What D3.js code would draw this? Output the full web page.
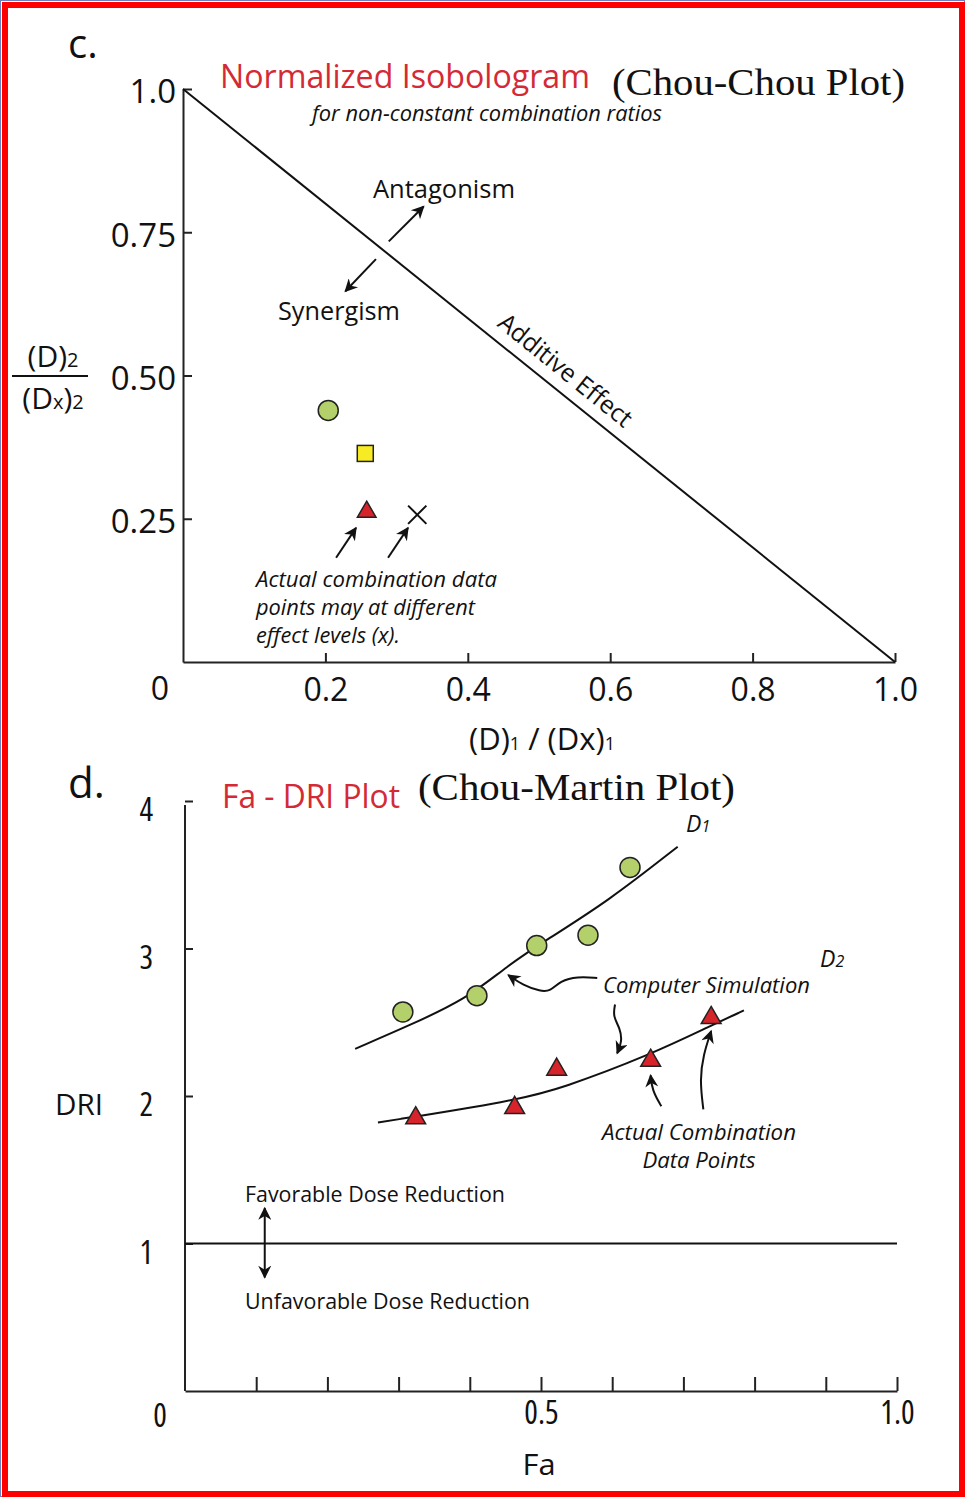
<!DOCTYPE html>
<html>
<head>
<meta charset="utf-8">
<script src="https://cdn.jsdelivr.net/npm/d3@7"></script>
<style>
  body { margin: 0; background: #fff; }
  svg text { font-family: "Open Sans", "Noto Sans", sans-serif; fill: #111; }
  .serif { font-family: "Liberation Serif", "Times New Roman", serif !important; }
  .axis path, .axis line { stroke: #222; stroke-width: 2; }
</style>
</head>
<body>
<div id="chart"></div>
<script>
// ---- panel c: normalized isobologram data ----
var isoTicksX = [0.2, 0.4, 0.6, 0.8, 1.0];
var isoTickLabelsX = ["0.2", "0.4", "0.6", "0.8", "1.0"];
var isoTicksY = [0.25, 0.5, 0.75, 1.0];
var isoTickLabelsY = ["0.25", "0.50", "0.75", "1.0"];
var additiveLine = [[0, 1], [1, 0]];
var isoPointNames = ["circle", "square", "triangle", "cross"];
var isoPointX = [0.204, 0.256, 0.258, 0.329];
var isoPointY = [0.439, 0.364, 0.262, 0.257];

// ---- panel d: Fa - DRI data ----
var driTicksX = [0.1, 0.2, 0.3, 0.4, 0.5, 0.6, 0.7, 0.8, 0.9, 1.0];
var driTickLabelsX = ["", "", "", "", "0.5", "", "", "", "", "1.0"];
var driTicksY = [1, 2, 3, 4];
var driTickLabelsY = ["1", "2", "3", "4"];
var faD1 = [0.306, 0.410, 0.494, 0.566, 0.625];
var driD1 = [2.57, 2.68, 3.02, 3.09, 3.55];
var faD2 = [0.324, 0.463, 0.522, 0.654, 0.739];
var driD2 = [1.85, 1.92, 2.18, 2.24, 2.53];
var simFaD1 = [0.239, 0.316, 0.396, 0.452, 0.508, 0.594, 0.692];
var simDriD1 = [2.32, 2.48, 2.66, 2.88, 3.06, 3.32, 3.69];
var simFaD2 = [0.271, 0.465, 0.528, 0.654, 0.740, 0.785];
var simDriD2 = [1.82, 1.97, 2.05, 2.28, 2.48, 2.58];
var referenceDRI = 1;

var width = 965, height = 1497;
var svg = d3.select("#chart").append("svg")
  .attr("width", width)
  .attr("height", height);

// arrow head
svg.append("defs").append("marker")
  .attr("id", "head")
  .attr("viewBox", "0 0 10 10")
  .attr("refX", 9).attr("refY", 5)
  .attr("markerWidth", 15).attr("markerHeight", 13)
  .attr("markerUnits", "userSpaceOnUse")
  .attr("orient", "auto-start-reverse")
  .append("path")
  .attr("d", "M0,0 L10,5 L0,10 L3,5 Z")
  .style("fill", "#111");

// frame
svg.append("rect").attr("x", 0.5).attr("y", 0.5).attr("width", width - 1).attr("height", height - 1)
  .style("fill", "none").style("stroke", "#7080b8").style("stroke-width", 1);
svg.append("rect").attr("x", 5).attr("y", 5).attr("width", 957).attr("height", 1489)
  .style("fill", "none").style("stroke", "#f00").style("stroke-width", 6);

function addText(x, y, str, size, opts) {
  opts = opts || {};
  var t = svg.append("text").attr("x", x).attr("y", y)
    .style("font-size", size + "px")
    .text(str);
  if (opts.anchor) t.attr("text-anchor", opts.anchor);
  if (opts.italic) t.style("font-style", "italic");
  if (opts.color) t.style("fill", opts.color);
  if (opts.cls) t.attr("class", opts.cls);
  if (opts.len) t.attr("textLength", opts.len).attr("lengthAdjust", "spacingAndGlyphs");
  return t;
}

/////////////////////////
//////// PANEL C ////////
/////////////////////////

var xC = d3.scaleLinear().domain([0, 1]).range([183, 895]);
var yC = d3.scaleLinear().domain([0, 1]).range([662, 89]);
var pC = function(d) { return [xC(d[0]), yC(d[1])]; };

svg.append("g").attr("class", "axis")
  .attr("transform", "translate(0," + yC(0) + ")")
  .call(d3.axisBottom(xC).tickValues(isoTicksX).tickSizeInner(-9).tickSizeOuter(0).tickPadding(16)
    .tickFormat(function(d, i) { return isoTickLabelsX[i]; }))
  .call(function(g) { g.selectAll("text").style("font-size", "32px"); });

svg.append("g").attr("class", "axis")
  .attr("transform", "translate(" + xC(0) + ",0)")
  .call(d3.axisLeft(yC).tickValues(isoTicksY).tickSizeInner(-9).tickSizeOuter(0).tickPadding(7)
    .tickFormat(function(d, i) { return isoTickLabelsY[i]; }))
  .call(function(g) { g.selectAll("text").style("font-size", "33px").attr("dy", "0.42em"); });

addText(160, 700, "0", 32, { anchor: "middle" });

// additive effect line
svg.append("path")
  .datum(additiveLine)
  .attr("d", d3.line().x(function(d) { return xC(d[0]); }).y(function(d) { return yC(d[1]); }))
  .style("fill", "none").style("stroke", "#111").style("stroke-width", 2);

// data points
isoPointNames.forEach(function(name, i) {
  var cx = xC(isoPointX[i]), cy = yC(isoPointY[i]);
  if (name === "circle") {
    svg.append("circle").attr("cx", cx).attr("cy", cy).attr("r", 10)
      .style("fill", "#b3d06b").style("stroke", "#222").style("stroke-width", 1.5);
  } else if (name === "square") {
    svg.append("rect").attr("x", cx - 8).attr("y", cy - 8).attr("width", 16).attr("height", 16)
      .style("fill", "#f7ec23").style("stroke", "#222").style("stroke-width", 1.5);
  } else if (name === "triangle") {
    svg.append("path").attr("transform", "translate(" + cx + "," + cy + ")")
      .attr("d", d3.symbol().type(d3.symbolTriangle).size(150))
      .style("fill", "#d7242b").style("stroke", "#222").style("stroke-width", 1.5);
  } else {
    svg.append("path").attr("transform", "translate(" + cx + "," + cy + ")")
      .attr("d", d3.symbol().type(d3.symbolX).size(220))
      .style("fill", "none").style("stroke", "#111").style("stroke-width", 2);
  }
});

// arrows (data space)
var isoArrows = [
  [[0.289, 0.734], [0.338, 0.795]],
  [[0.271, 0.703], [0.228, 0.647]],
  [[0.215, 0.182], [0.243, 0.234]],
  [[0.288, 0.182], [0.316, 0.234]]
];
isoArrows.forEach(function(a) {
  svg.append("path")
    .attr("d", d3.line()(a.map(pC)))
    .attr("marker-end", "url(#head)")
    .style("fill", "none").style("stroke", "#111").style("stroke-width", 2);
});

// texts panel c
addText(68, 58, "c.", 40);
addText(220, 88, "Normalized Isobologram", 32, { color: "#d42a36", len: 370 });
addText(612, 95, "(Chou-Chou Plot)", 38, { cls: "serif", len: 293 });
addText(312, 121, "for non-constant combination ratios", 22, { italic: true, len: 350 });
addText(373, 198, "Antagonism", 25, { len: 142 });
addText(278, 320, "Synergism", 25, { len: 122 });
addText(560, 377, "Additive Effect", 25, { anchor: "middle", len: 164 })
  .attr("transform", "rotate(38.9,560,377)");
addText(256, 587, "Actual combination data", 22, { italic: true, len: 241 });
addText(256, 615, "points may at different", 22, { italic: true, len: 219 });
addText(256, 643, "effect levels (x).", 22, { italic: true, len: 144 });

var xl = addText(542, 750, "", 31, { anchor: "middle" });
xl.append("tspan").text("(D)");
xl.append("tspan").style("font-size", "18px").text("1");
xl.append("tspan").text(" / (Dx)");
xl.append("tspan").style("font-size", "18px").text("1");

var num = addText(53, 367, "", 30, { anchor: "middle" });
num.append("tspan").text("(D)");
num.append("tspan").style("font-size", "20px").text("2");
svg.append("line").attr("x1", 12).attr("x2", 88).attr("y1", 376).attr("y2", 376)
  .style("stroke", "#111").style("stroke-width", 2);
var den = addText(53, 409, "", 30, { anchor: "middle" });
den.append("tspan").text("(D");
den.append("tspan").style("font-size", "20px").text("x");
den.append("tspan").text(")");
den.append("tspan").style("font-size", "20px").text("2");

/////////////////////////
//////// PANEL D ////////
/////////////////////////

var xD = d3.scaleLinear().domain([0, 1]).range([185, 897]);
var yD = d3.scaleLinear().domain([0, 4]).range([1391, 801]);
var pD = function(d) { return [xD(d[0]), yD(d[1])]; };

svg.append("g").attr("class", "axis")
  .attr("transform", "translate(0," + yD(0) + ")")
  .call(d3.axisBottom(xD).tickValues(driTicksX).tickSizeInner(-14).tickSizeOuter(0).tickPadding(10)
    .tickFormat(function(d, i) { return driTickLabelsX[i]; }))
  .call(function(g) { g.selectAll("text").style("font-size", "32px").style("font-stretch", "condensed"); });

svg.append("g").attr("class", "axis")
  .attr("transform", "translate(" + xD(0) + ",0)")
  .call(d3.axisLeft(yD).tickValues(driTicksY).tickSizeInner(-8).tickSizeOuter(0).tickPadding(32)
    .tickFormat(function(d, i) { return driTickLabelsY[i]; }))
  .call(function(g) {
    g.selectAll("text").style("font-size", "32px").style("font-stretch", "condensed").attr("dy", "0.62em");
    g.select(".domain").attr("d", "M0," + (yD(4) + 4) + "V" + yD(0));
  });

addText(160, 1427, "0", 32, { anchor: "middle" }).style("font-stretch", "condensed");

// DRI = 1 reference line
svg.append("line")
  .attr("x1", xD(0)).attr("x2", xD(1))
  .attr("y1", yD(referenceDRI)).attr("y2", yD(referenceDRI))
  .style("stroke", "#111").style("stroke-width", 2);

// simulated curves
var curveLine = d3.line().curve(d3.curveBasis)
  .x(function(d) { return xD(d[0]); }).y(function(d) { return yD(d[1]); });
svg.append("path").datum(d3.zip(simFaD1, simDriD1)).attr("d", curveLine)
  .style("fill", "none").style("stroke", "#111").style("stroke-width", 2);
svg.append("path").datum(d3.zip(simFaD2, simDriD2)).attr("d", curveLine)
  .style("fill", "none").style("stroke", "#111").style("stroke-width", 2);

// actual points
svg.selectAll(".d1-point").data(d3.zip(faD1, driD1)).enter()
  .append("circle").attr("class", "d1-point")
  .attr("cx", function(d) { return xD(d[0]); })
  .attr("cy", function(d) { return yD(d[1]); })
  .attr("r", 10)
  .style("fill", "#b3d06b").style("stroke", "#222").style("stroke-width", 1.5);

svg.selectAll(".d2-point").data(d3.zip(faD2, driD2)).enter()
  .append("path").attr("class", "d2-point")
  .attr("transform", function(d) { return "translate(" + xD(d[0]) + "," + yD(d[1]) + ")"; })
  .attr("d", d3.symbol().type(d3.symbolTriangle).size(170))
  .style("fill", "#d7242b").style("stroke", "#222").style("stroke-width", 1.5);

// annotation arrows (data space)
var driArrows = [
  [[0.579, 2.80], [0.551, 2.81], [0.527, 2.78], [0.513, 2.71], [0.499, 2.71], [0.475, 2.75], [0.454, 2.82]],
  [[0.604, 2.62], [0.601, 2.54], [0.611, 2.46], [0.614, 2.37], [0.607, 2.29]],
  [[0.669, 1.93], [0.656, 2.04], [0.654, 2.14]],
  [[0.728, 1.91], [0.723, 2.11], [0.728, 2.28], [0.739, 2.44]]
];
driArrows.forEach(function(a) {
  svg.append("path")
    .attr("d", d3.line().curve(d3.curveBasis)(a.map(pD)))
    .attr("marker-end", "url(#head)")
    .style("fill", "none").style("stroke", "#111").style("stroke-width", 2);
});
svg.append("path")
  .attr("d", d3.line()([[0.112, 1.24], [0.112, 0.77]].map(pD)))
  .attr("marker-start", "url(#head)").attr("marker-end", "url(#head)")
  .style("fill", "none").style("stroke", "#111").style("stroke-width", 2);

// texts panel d
addText(68, 798, "d.", 42);
addText(222, 808, "Fa - DRI Plot", 32, { color: "#d42a36", len: 178 });
addText(418, 800, "(Chou-Martin Plot)", 38, { cls: "serif", len: 317 });

var d1 = addText(686, 832, "", 23, { italic: true });
d1.append("tspan").text("D");
d1.append("tspan").style("font-size", "16px").text("1");
var d2 = addText(820, 967, "", 23, { italic: true });
d2.append("tspan").text("D");
d2.append("tspan").style("font-size", "16px").text("2");

addText(603, 993, "Computer Simulation", 22, { italic: true, len: 207 });
addText(699, 1140, "Actual Combination", 22, { italic: true, anchor: "middle", len: 194 });
addText(699, 1168, "Data Points", 22, { italic: true, anchor: "middle", len: 113 });
addText(245, 1202, "Favorable Dose Reduction", 22, { len: 260 });
addText(245, 1309, "Unfavorable Dose Reduction", 22, { len: 285 });
addText(79, 1115, "DRI", 29, { anchor: "middle", len: 48 });
addText(539, 1475, "Fa", 29, { anchor: "middle", len: 33 });
</script>
</body>
</html>
